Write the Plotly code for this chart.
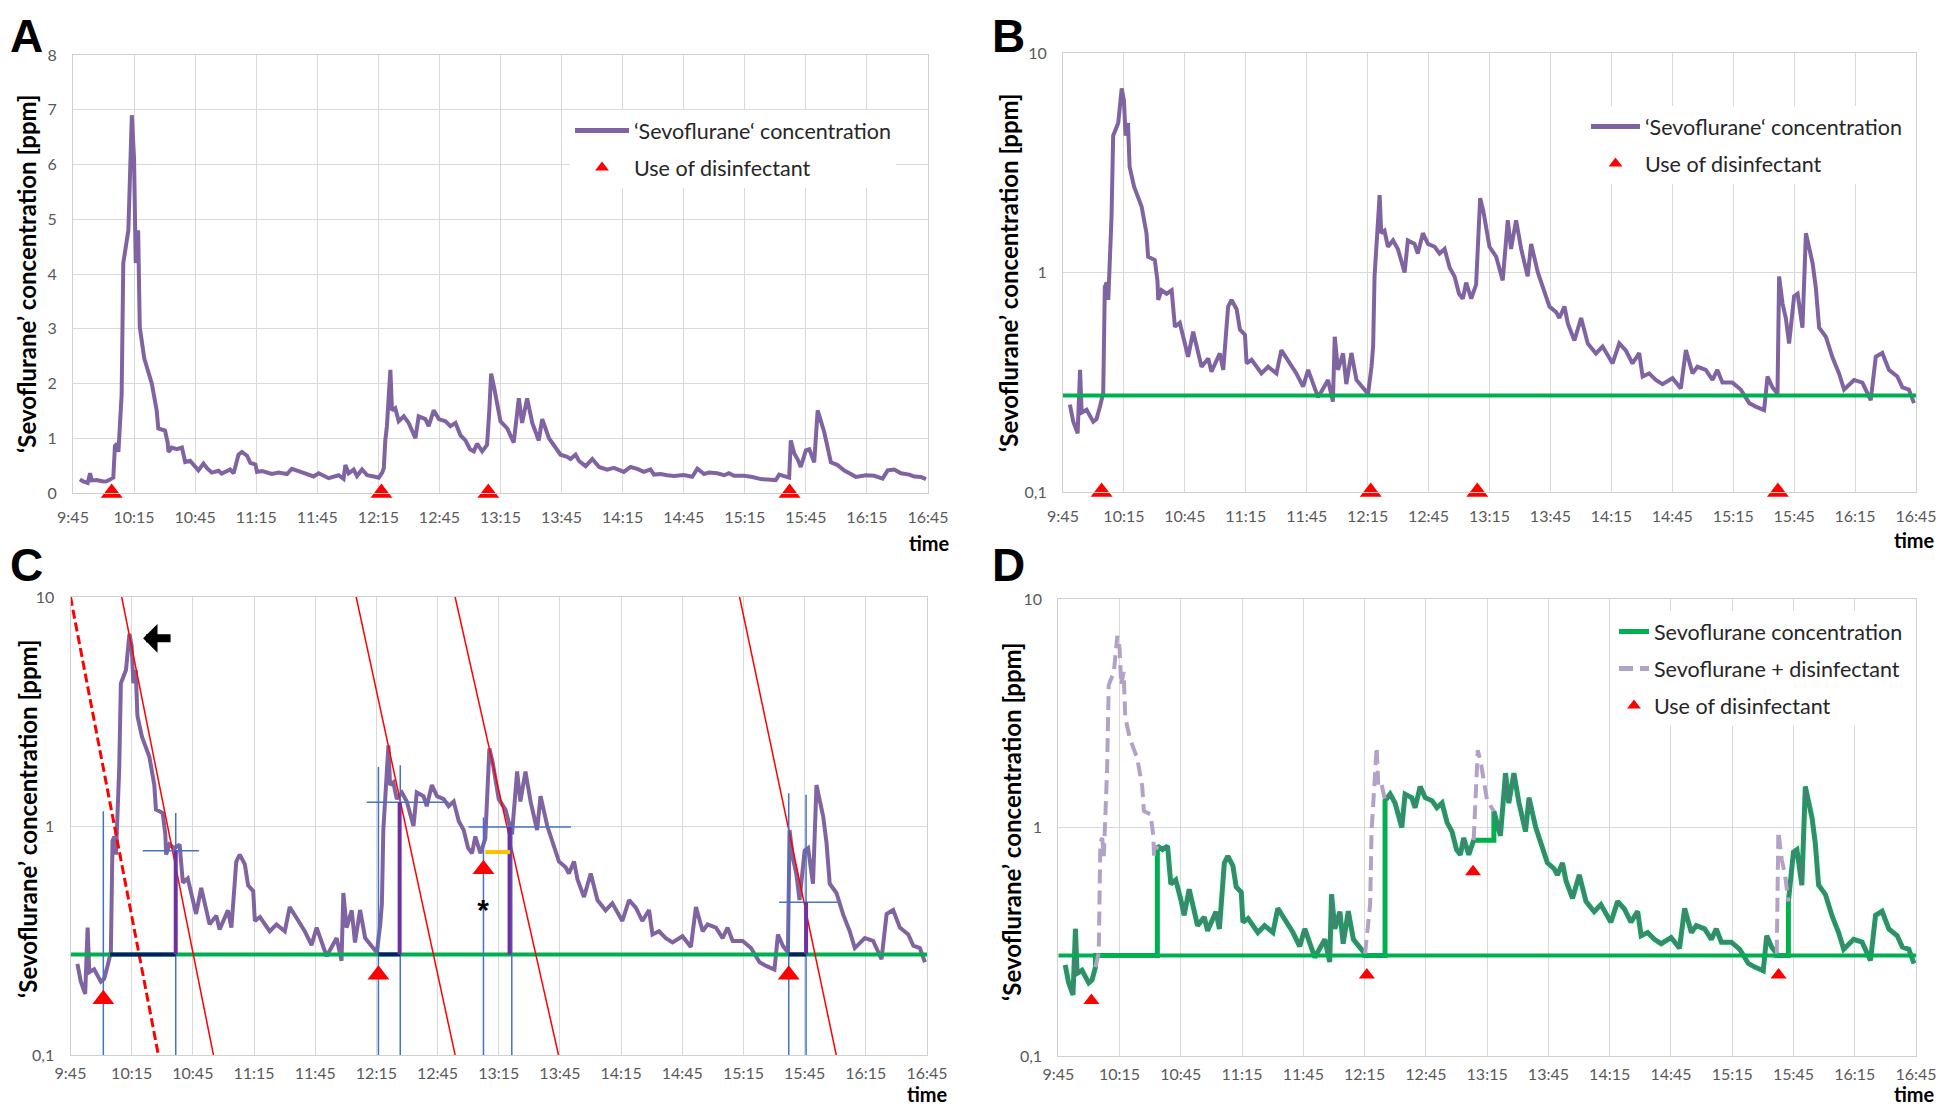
import numpy as np
import plotly.graph_objects as go

# page body adds an 8 px margin, so the figure is 16 px smaller than the window
W, H = 1930, 1099
OFF = 8

# ---- data -----------------------------------------------------------------
# time in minutes after 9:45, concentration in ppm
t_min = [3.4, 5.0, 7.2, 8.4, 9.2, 11.6, 14.9, 16.5, 18.2, 19.8, 20.6, 21.5, 22.3,
         23.9, 24.7, 27.2, 28.9, 30.0, 30.8, 32.0, 32.8, 35.0, 38.7, 41.1, 41.9,
         45.2, 46.5, 46.9, 48.5, 51.0, 53.5, 55.1, 57.5, 60.0, 61.6, 64.1, 65.7,
         68.2, 71.5, 73.1, 77.2, 78.9, 81.3, 83.0, 85.5, 87.1, 89.6, 90.4, 92.9,
         97.7, 101.0, 105.1, 107.5, 110.8, 114.9, 118.2, 120.7, 125.6, 130.5,
         132.9, 133.8, 135.4, 137.9, 139.5, 142.0, 144.5, 147.8, 150.2, 151.9,
         152.7, 153.4, 154.2, 155.9, 156.7, 158.3, 160.0, 162.5, 164.9, 168.2,
         169.8, 173.1, 174.7, 177.2, 179.7, 183.0, 185.4, 187.9, 190.4, 192.8,
         195.0, 196.9, 198.5, 201.0, 203.4, 204.5, 205.4, 207.0, 210.0, 213.3,
         216.5, 219.0, 220.6, 223.1, 225.6, 228.8, 230.5, 233.8, 236.2, 239.5,
         242.8, 244.4, 246.9, 248.6, 251.8, 255.1, 258.4, 262.4, 265.7, 270.6,
         273.9, 277.2, 280.4, 283.7, 285.4, 288.6, 291.9, 295.2, 300.1, 304.2,
         306.7, 310.0, 312.4, 316.5, 319.8, 322.2, 324.7, 329.6, 333.7, 337.9,
         341.1, 345.2, 346.9, 349.3, 351.8, 352.6, 354.3, 355.9, 357.5, 360.0,
         361.7, 364.1, 365.8, 369.1, 370.7, 372.3, 375.6, 378.9, 382.1, 384.6,
         389.5, 393.6, 397.7, 400.2, 403.4, 406.7, 410.8, 413.3, 416.5, 419.0]
ppm = [0.25, 0.21, 0.185, 0.36, 0.23, 0.237, 0.209, 0.215, 0.245, 0.282, 0.86, 0.9, 0.75,
       1.8, 4.2, 4.8, 6.9, 6.1, 4.2, 4.8, 3.03, 2.46, 2.0, 1.51, 1.18,
       1.14, 0.92, 0.75, 0.83, 0.80, 0.83, 0.566, 0.59, 0.484, 0.413, 0.537, 0.459,
       0.372, 0.406, 0.353, 0.428, 0.36, 0.70, 0.75, 0.68, 0.55, 0.52, 0.385, 0.40,
       0.347, 0.372, 0.347, 0.443, 0.40, 0.347, 0.302, 0.36, 0.27, 0.324,
       0.258, 0.51, 0.36, 0.428, 0.31, 0.43, 0.324, 0.30, 0.28, 0.372,
       0.46, 0.96, 1.22, 2.25, 1.51, 1.55, 1.31, 1.40, 1.28, 1.0,
       1.4, 1.35, 1.22, 1.51, 1.35, 1.31, 1.22, 1.28, 1.05, 0.96,
       0.80, 0.76, 0.90, 0.76, 0.88, 1.5, 2.18, 1.9, 1.31, 1.18,
       0.92, 1.73, 1.28, 1.73, 1.28, 0.96, 1.35, 1.0, 0.86, 0.70,
       0.66, 0.62, 0.70, 0.585, 0.49, 0.62, 0.475, 0.428, 0.46, 0.385,
       0.475, 0.44, 0.385, 0.43, 0.336, 0.347, 0.324, 0.31, 0.33, 0.296,
       0.443, 0.347, 0.372, 0.36, 0.324, 0.36, 0.315, 0.315, 0.293, 0.254,
       0.245, 0.236, 0.336, 0.30, 0.28, 0.96, 0.72, 0.62, 0.475, 0.78,
       0.80, 0.56, 1.51, 1.1, 0.85, 0.56, 0.51, 0.41, 0.347, 0.293,
       0.324, 0.315, 0.262, 0.413, 0.43, 0.36, 0.336, 0.30, 0.293, 0.254]

tick_vals = list(range(0, 421, 30))
tick_text = ["9:45", "10:15", "10:45", "11:15", "11:45", "12:15", "12:45", "13:15",
             "13:45", "14:15", "14:45", "15:15", "15:45", "16:15", "16:45"]

baseline = 0.275

# use of disinfectant (red triangles)
ab_marker_t = [19.0, 151.5, 204.0, 352.0]
c_marker_t = [16.1, 151.0, 202.5, 352.2]
c_marker_v = [0.175, 0.224, 0.647, 0.224]
d_marker_t = [16.2, 151.1, 203.1, 352.7]
d_marker_v = [0.175, 0.226, 0.64, 0.226]

# panel C construction lines (red lines go from 10 ppm down to 0.1 ppm)
c_dashed_top_t, c_dashed_bottom_t = [0.0], [43.1]
c_red_top_t = [25.1, 140.1, 188.6, 328.1]
c_red_bottom_t = [70.1, 188.6, 239.3, 375.5]
c_blue_v_t = [16.1, 51.6, 151.0, 161.7, 202.5, 216.4, 352.2, 360.7]
c_blue_v_top = [1.16, 1.14, 1.81, 1.84, 1.09, 1.03, 1.39, 1.37]
c_blue_h_from = [35.4, 145.3, 195.2, 347.5]
c_blue_h_to = [63.0, 185.4, 245.4, 376.1]
c_blue_h_v = [0.78, 1.27, 0.99, 0.465]
c_bar_t = [51.6, 161.4, 215.3, 360.7]
c_bar_top = [0.78, 1.27, 0.99, 0.465]
c_navy_from = [19.4, 151.0, 352.2]
c_navy_to = [51.6, 161.7, 360.7]
c_yellow_from, c_yellow_to, c_yellow_v = [203.4], [215.6], [0.77]
c_star_t, c_star_v = [202.3], [0.42]
c_arrow_tip, c_arrow_tail, c_arrow_v = 35.6, 49.8, 6.6

# panel D: periods where disinfectant was removed from the signal
d_win_start = [18.2, 150.2, 203.4, 351.8]
d_win_end = [48.5, 160.0, 213.3, 357.5]
d_win_level = [0.275, 0.275, 0.88, 0.275]

# ---- colours / fonts --------------------------------------------------------
PURPLE = "#8064A2"
GREEN = "#00B050"
RED = "#FF0000"
BLUE = "#4472C4"
NAVY = "#002060"
DPURPLE = "#7030A0"
YELLOW = "#FFC000"
LAVENDER = "#B3A2C7"
SLATE = "#4F7B7B"
FONT = "Lato"


def px(x):
    return (x - OFF) / W


def py(y):
    return 1 - (y - OFF) / H


def segs(x0, x1, y0, y1):
    xs, ys = [], []
    for a, b, c, d in zip(x0, x1, y0, y1):
        xs += [a, b, None]
        ys += [c, d, None]
    return xs, ys


windows = list(zip(d_win_start, d_win_end, d_win_level))


def inside(t):
    return any(s < t < e for s, e, _ in windows)


# green "sevoflurane only" line
green_t, green_v = [], []
for t, v in zip(t_min, ppm):
    if inside(t):
        continue
    for s, e, lv in windows:
        if t == e:
            green_t.append(t); green_v.append(lv)
    green_t.append(t); green_v.append(v)
    for s, e, lv in windows:
        if t == s:
            green_t.append(t); green_v.append(lv)

# parts shared by both curves, and the disinfectant parts (dashed)
slate_t, slate_v, dash_t, dash_v = [], [], [], []
for t, v in zip(t_min, ppm):
    if inside(t):
        if slate_t and slate_t[-1] is not None:
            slate_t.append(None); slate_v.append(None)
    else:
        slate_t.append(t); slate_v.append(v)
    if any(s <= t <= e for s, e, _ in windows):
        dash_t.append(t); dash_v.append(v)
    elif dash_t and dash_t[-1] is not None:
        dash_t.append(None); dash_v.append(None)

fig = go.Figure()

# ---- A ----------------------------------------------------------------------
fig.add_trace(go.Scatter(x=t_min, y=ppm, mode="lines", line=dict(color=PURPLE, width=4),
                         name="‘Sevoflurane‘ concentration", legend="legend",
                         legendgroup="a1", xaxis="x", yaxis="y"))
fig.add_trace(go.Scatter(x=ab_marker_t, y=[0] * 4, mode="markers", cliponaxis=False,
                         marker=dict(symbol="triangle-up", size=19, color=RED),
                         name="Use of disinfectant", legend="legend", legendgroup="a2",
                         xaxis="x", yaxis="y"))

# ---- B ----------------------------------------------------------------------
fig.add_trace(go.Scatter(x=t_min, y=ppm, mode="lines", line=dict(color=PURPLE, width=4),
                         name="‘Sevoflurane‘ concentration", legend="legend2",
                         legendgroup="b1", xaxis="x2", yaxis="y2"))
fig.add_trace(go.Scatter(x=[0, 420], y=[baseline, baseline], mode="lines",
                         line=dict(color=GREEN, width=4), showlegend=False,
                         xaxis="x2", yaxis="y2"))
fig.add_trace(go.Scatter(x=ab_marker_t, y=[0.1] * 4, mode="markers", cliponaxis=False,
                         marker=dict(symbol="triangle-up", size=19, color=RED),
                         name="Use of disinfectant", legend="legend2", legendgroup="b2",
                         xaxis="x2", yaxis="y2"))

# ---- C ----------------------------------------------------------------------
fig.add_trace(go.Scatter(x=t_min, y=ppm, mode="lines", line=dict(color=PURPLE, width=4),
                         showlegend=False, xaxis="x3", yaxis="y3"))
fig.add_trace(go.Scatter(x=[0, 420], y=[baseline, baseline], mode="lines",
                         line=dict(color=GREEN, width=4), showlegend=False,
                         xaxis="x3", yaxis="y3"))
xs, ys = segs(c_red_top_t, c_red_bottom_t, [10] * 4, [0.1] * 4)
fig.add_trace(go.Scatter(x=xs, y=ys, mode="lines", line=dict(color=RED, width=1.5),
                         showlegend=False, xaxis="x3", yaxis="y3"))
xs, ys = segs(c_dashed_top_t, c_dashed_bottom_t, [10], [0.1])
fig.add_trace(go.Scatter(x=xs, y=ys, mode="lines",
                         line=dict(color=RED, width=3, dash="9px,4px"),
                         showlegend=False, xaxis="x3", yaxis="y3"))
xs, ys = segs(c_blue_v_t, c_blue_v_t, [0.1] * 8, c_blue_v_top)
fig.add_trace(go.Scatter(x=xs, y=ys, mode="lines", line=dict(color=BLUE, width=1.5),
                         showlegend=False, xaxis="x3", yaxis="y3"))
xs, ys = segs(c_blue_h_from, c_blue_h_to, c_blue_h_v, c_blue_h_v)
fig.add_trace(go.Scatter(x=xs, y=ys, mode="lines", line=dict(color=BLUE, width=1.5),
                         showlegend=False, xaxis="x3", yaxis="y3"))
xs, ys = segs(c_navy_from, c_navy_to, [baseline] * 3, [baseline] * 3)
fig.add_trace(go.Scatter(x=xs, y=ys, mode="lines", line=dict(color=NAVY, width=4),
                         showlegend=False, xaxis="x3", yaxis="y3"))
xs, ys = segs(c_bar_t, c_bar_t, [baseline] * 4, c_bar_top)
fig.add_trace(go.Scatter(x=xs, y=ys, mode="lines", line=dict(color=DPURPLE, width=4),
                         showlegend=False, xaxis="x3", yaxis="y3"))
xs, ys = segs(c_yellow_from, c_yellow_to, c_yellow_v, c_yellow_v)
fig.add_trace(go.Scatter(x=xs, y=ys, mode="lines", line=dict(color=YELLOW, width=4),
                         showlegend=False, xaxis="x3", yaxis="y3"))
fig.add_trace(go.Scatter(x=c_marker_t, y=c_marker_v, mode="markers", cliponaxis=False,
                         marker=dict(symbol="triangle-up", size=19, color=RED),
                         showlegend=False, xaxis="x3", yaxis="y3"))
fig.add_trace(go.Scatter(x=c_star_t, y=c_star_v, mode="text", text=["<b>*</b>"],
                         textfont=dict(family="Liberation Sans", size=30, color="black"),
                         showlegend=False, xaxis="x3", yaxis="y3"))

# ---- D ----------------------------------------------------------------------
fig.add_trace(go.Scatter(x=green_t, y=green_v, mode="lines", line=dict(color=GREEN, width=5),
                         name="Sevoflurane concentration", legend="legend3",
                         legendgroup="d1", xaxis="x4", yaxis="y4"))
fig.add_trace(go.Scatter(x=slate_t, y=slate_v, mode="lines", line=dict(color=SLATE, width=2.5),
                         showlegend=False, xaxis="x4", yaxis="y4"))
fig.add_trace(go.Scatter(x=[0, 420], y=[baseline, baseline], mode="lines",
                         line=dict(color=GREEN, width=4), showlegend=False,
                         xaxis="x4", yaxis="y4"))
fig.add_trace(go.Scatter(x=dash_t, y=dash_v, mode="lines",
                         line=dict(color=LAVENDER, width=4, dash="14px,7px"),
                         name="Sevoflurane + disinfectant", legend="legend3",
                         legendgroup="d2", xaxis="x4", yaxis="y4"))
fig.add_trace(go.Scatter(x=d_marker_t, y=d_marker_v, mode="markers", cliponaxis=False,
                         marker=dict(symbol="triangle-up", size=14, color=RED),
                         name="Use of disinfectant", legend="legend3", legendgroup="d3",
                         xaxis="x4", yaxis="y4"))

# ---- axes -------------------------------------------------------------------
tickfont = dict(family=FONT, size=16, color="#595959")
xcommon = dict(range=[0, 420], tickmode="array", tickvals=tick_vals, ticktext=tick_text,
               showgrid=True, gridcolor="#D9D9D9", gridwidth=1, zeroline=False,
               showline=True, linecolor="#D0D0D0", mirror=True, ticks="",
               tickfont=tickfont, automargin=False)
ycommon = dict(showgrid=True, gridcolor="#D9D9D9", gridwidth=1, zeroline=False,
               showline=True, linecolor="#D0D0D0", mirror=True, ticks="",
               ticklabelstandoff=12, tickfont=tickfont, automargin=False)
ylog = dict(type="log", range=[-1, 1], tickmode="array", tickvals=[0.1, 1, 10],
            ticktext=["0,1", "1", "10"], **ycommon)


def dom(a, b):
    return [px(a), px(b)]


def vdom(top, bottom):
    return [py(bottom), py(top)]


fig.update_layout(
    xaxis=dict(domain=dom(73, 928), anchor="y", ticklabelstandoff=10, **xcommon),
    yaxis=dict(domain=vdom(55, 493), anchor="x", range=[0, 8], dtick=1, **ycommon),
    xaxis2=dict(domain=dom(1063, 1916), anchor="y2", ticklabelstandoff=10, **xcommon),
    yaxis2=dict(domain=vdom(53, 492), anchor="x2", **ylog),
    xaxis3=dict(domain=dom(70.5, 927), anchor="y3", ticklabelstandoff=4, **xcommon),
    yaxis3=dict(domain=vdom(597, 1055), anchor="x3", **ylog),
    xaxis4=dict(domain=dom(1058.3, 1916), anchor="y4", ticklabelstandoff=4, **xcommon),
    yaxis4=dict(domain=vdom(599, 1056), anchor="x4", **ylog),
)

legfont = dict(family=FONT, size=21.5, color="#262626")
legcommon = dict(bgcolor="white", font=legfont, itemsizing="constant", traceorder="grouped",
                 tracegroupgap=6, xanchor="left", yanchor="top")
fig.update_layout(
    legend=dict(x=px(570), y=py(110), itemwidth=54, **legcommon),
    legend2=dict(x=px(1586), y=py(106), itemwidth=49, **legcommon),
    legend3=dict(x=px(1614), y=py(611), **legcommon),
)

# ---- text ------------------------------------------------------------------
ann = []
title = "‘Sevoflurane’ concentration [ppm]"
for x, y in [(27, 274), (1008, 272), (27, 819), (1011, 822)]:
    ann.append(dict(xref="paper", yref="paper", x=px(x), y=py(y), text=f"<b>{title}</b>",
                    textangle=-90, showarrow=False, xanchor="center", yanchor="middle",
                    font=dict(family=FONT, size=24, color="black")))
for x, y in [(952, 543), (1937, 540), (950, 1094), (1937, 1094)]:
    ann.append(dict(xref="paper", yref="paper", x=px(x), y=py(y), text="<b>time</b>",
                    showarrow=False, xanchor="right", yanchor="middle",
                    font=dict(family=FONT, size=20, color="black")))
for lab, x, y in [("A", 8, 8), ("B", 990, 8), ("C", 8, 537), ("D", 990, 537)]:
    ann.append(dict(xref="paper", yref="paper", x=px(x), y=py(y), text=f"<b>{lab}</b>",
                    showarrow=False, xanchor="left", yanchor="top",
                    font=dict(family="Liberation Sans", size=46, color="black")))
ann.append(dict(xref="x3", yref="y3", x=c_arrow_tip, y=np.log10(c_arrow_v),
                axref="x3", ayref="y3", ax=c_arrow_tail, ay=np.log10(c_arrow_v),
                showarrow=True, arrowhead=1, arrowwidth=8, arrowsize=0.6,
                arrowcolor="black", text=""))

fig.update_layout(
    width=W, height=H, margin=dict(l=0, r=0, t=0, b=0),
    paper_bgcolor="white", plot_bgcolor="white",
    annotations=ann, font=dict(family=FONT),
)

fig.write_html("out.html")
